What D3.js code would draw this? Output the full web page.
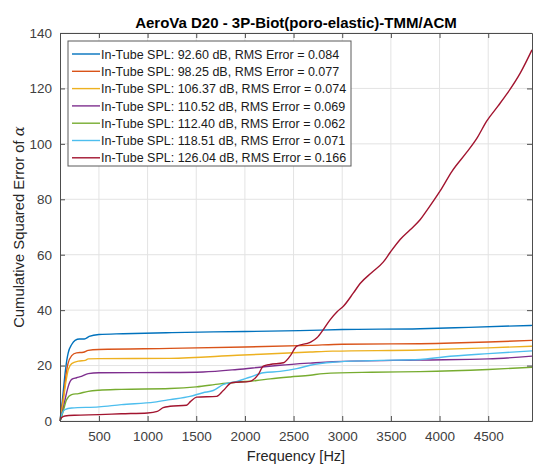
<!DOCTYPE html>
<html>
<head>
<meta charset="utf-8">
<script src="https://cdn.jsdelivr.net/npm/d3@7"></script>
<style>
  body { margin: 0; background: #fff; }
  svg { display: block; overflow: hidden; }
  text { font-family: "Liberation Sans", Arial, sans-serif; }
</style>
</head>
<body>
<div id="chart"></div>
<script>
// chart data ([frequency Hz, cumulative squared error])
var seriesLabels = [
  "In-Tube SPL: 92.60 dB, RMS Error = 0.084",
  "In-Tube SPL: 98.25 dB, RMS Error = 0.077",
  "In-Tube SPL: 106.37 dB, RMS Error = 0.074",
  "In-Tube SPL: 110.52 dB, RMS Error = 0.069",
  "In-Tube SPL: 112.40 dB, RMS Error = 0.062",
  "In-Tube SPL: 118.51 dB, RMS Error = 0.071",
  "In-Tube SPL: 126.04 dB, RMS Error = 0.166"
];
var seriesColors = ["#0072BD", "#D95319", "#EDB120", "#7E2F8E", "#77AC30", "#4DBEEE", "#A2142F"];

var spl9260 = [[100,0],[120,6],[140,13],[155,18],[170,22],[185,24.7],[220,27.6],[255,29.1],[300,29.6],[350,29.6],[400,30.5],[500,31.2],[750,31.5],[1250,31.9],[2000,32.3],[2560,32.6],[3000,33.0],[3800,33.3],[4300,33.8],[4950,34.5]];
var spl9825 = [[100,0],[120,5],[140,10],[160,16],[180,20.4],[220,23.6],[270,24.6],[340,24.8],[390,25.5],[500,25.8],[1230,26.2],[2000,26.7],[2670,27.3],[3000,27.7],[3800,27.9],[4500,28.5],[4950,29.1]];
var spl10637 = [[100,0],[120,4],[140,9],[160,14],[185,18.6],[220,20.7],[290,21.6],[360,21.9],[390,22.4],[500,22.5],[1230,22.6],[1920,23.7],[2670,24.9],[2900,25.2],[3800,25.6],[4500,26.4],[4950,27.0]];
var spl11052 = [[100,0],[130,4],[160,9],[185,12.5],[220,15.0],[270,15.6],[320,16.1],[390,17.1],[500,17.4],[1230,17.5],[1570,17.7],[1920,18.6],[2155,19.4],[2360,20.1],[2670,20.9],[2900,21.4],[3800,22.0],[4500,22.4],[4950,23.4]];
var spl11240 = [[100,0],[120,2],[140,4.5],[168,7.7],[220,9.5],[290,9.9],[390,10.7],[500,11.1],[730,11.4],[1230,11.7],[1500,12.3],[1745,13.4],[1920,14.0],[2120,14.6],[2260,15.2],[2465,15.9],[2670,16.5],[2806,17.1],[3300,17.6],[3800,17.8],[4500,18.6],[4950,19.4]];
var spl11851 = [[100,0],[120,2.5],[150,4.1],[220,4.7],[500,5.1],[730,5.9],[1070,6.8],[1230,7.7],[1435,8.9],[1570,10.2],[1675,11.0],[1780,13.2],[1920,14.3],[2050,15.8],[2190,17.4],[2360,17.9],[2533,18.9],[2670,20.1],[2900,21.2],[3300,21.8],[3800,22.2],[4040,23.1],[4500,24.3],[4950,25.3]];
var spl12604 = [[100,0],[115,1.2],[150,1.8],[250,2.1],[500,2.3],[730,2.6],[1000,2.9],[1100,3.5],[1160,4.8],[1230,5.3],[1400,5.7],[1440,7.0],[1504,8.6],[1710,8.9],[1778,11.0],[1864,13.8],[2052,14.3],[2138,16.8],[2189,19.8],[2258,20.4],[2395,21.0],[2464,23.4],[2533,27.0],[2670,28.4],[2740,30.0],[2806,33.0],[2875,36.5],[2950,39.5],[3012,41.4],[3115,46.2],[3184,49.6],[3304,53.6],[3423,57.4],[3492,60.8],[3595,65.5],[3698,69.0],[3800,72.6],[3870,76.0],[4006,83.0],[4126,90.0],[4280,97.0],[4383,102.0],[4486,108.3],[4600,113.6],[4692,118.0],[4829,125.5],[4950,133.9]];

var allSeries = [spl9260, spl9825, spl10637, spl11052, spl11240, spl11851, spl12604];

var xTicks = [500, 1000, 1500, 2000, 2500, 3000, 3500, 4000, 4500];
var yTicks = [0, 20, 40, 60, 80, 100, 120, 140];

var svgWidth = 533;
var svgHeight = 466;

var margin = { top: 33, right: 1, bottom: 45, left: 60 };
var width = svgWidth - margin.left - margin.right;
var height = svgHeight - margin.top - margin.bottom;

var svg = d3.select("#chart")
  .append("svg")
  .attr("width", svgWidth)
  .attr("height", svgHeight);

var chartGroup = svg.append("g")
  .attr("transform", `translate(${margin.left}, ${margin.top})`);

// scales
var xScale = d3.scaleLinear()
  .domain([100, 4950])
  .range([0, width]);

var yScale = d3.scaleLinear()
  .domain([0, 140])
  .range([height, 0]);

// grid lines
chartGroup.append("g")
  .selectAll("line")
  .data(xTicks)
  .enter()
  .append("line")
  .attr("x1", d => xScale(d))
  .attr("x2", d => xScale(d))
  .attr("y1", 0)
  .attr("y2", height)
  .attr("stroke", "#e3e3e3")
  .attr("stroke-width", 1);

chartGroup.append("g")
  .selectAll("line")
  .data(yTicks)
  .enter()
  .append("line")
  .attr("x1", 0)
  .attr("x2", width)
  .attr("y1", d => yScale(d))
  .attr("y2", d => yScale(d))
  .attr("stroke", "#e3e3e3")
  .attr("stroke-width", 1);

// lines
var line = d3.line()
  .x(d => xScale(d[0]))
  .y(d => yScale(d[1]))
  .curve(d3.curveMonotoneX);

chartGroup.append("g")
  .selectAll("path")
  .data(allSeries)
  .enter()
  .append("path")
  .attr("d", d => line(d))
  .attr("fill", "none")
  .attr("stroke", (d, i) => seriesColors[i])
  .attr("stroke-width", 1.4);

// axes (ticks point inward, box on all sides)
function styleAxis(g) {
  g.select(".domain").attr("stroke", "#4d4d4d");
  g.selectAll(".tick line").attr("stroke", "#4d4d4d");
  g.selectAll(".tick text")
    .attr("fill", "#404040")
    .style("font-size", "13.5px");
}

var bottomAxis = d3.axisBottom(xScale).tickValues(xTicks).tickFormat(d3.format("d")).tickSizeInner(-5).tickSizeOuter(0).tickPadding(10);
var topAxis = d3.axisTop(xScale).tickValues(xTicks).tickSizeInner(-5).tickSizeOuter(0).tickFormat("");
var leftAxis = d3.axisLeft(yScale).tickValues(yTicks).tickFormat(d3.format("d")).tickSizeInner(-5).tickSizeOuter(0).tickPadding(8);
var rightAxis = d3.axisRight(yScale).tickValues(yTicks).tickSizeInner(-5).tickSizeOuter(0).tickFormat("");

chartGroup.append("g")
  .attr("transform", `translate(0, ${height})`)
  .call(bottomAxis)
  .call(styleAxis);

chartGroup.append("g")
  .call(topAxis)
  .call(styleAxis);

chartGroup.append("g")
  .call(leftAxis)
  .call(styleAxis);

chartGroup.append("g")
  .attr("transform", `translate(${width}, 0)`)
  .call(rightAxis)
  .call(styleAxis);

// title and axis labels
svg.append("text")
  .attr("x", margin.left + width / 2)
  .attr("y", 28)
  .attr("text-anchor", "middle")
  .style("font-size", "15px")
  .style("font-weight", "bold")
  .attr("fill", "#000")
  .text("AeroVa D20 - 3P-Biot(poro-elastic)-TMM/ACM");

svg.append("text")
  .attr("x", margin.left + width / 2)
  .attr("y", 461)
  .attr("text-anchor", "middle")
  .style("font-size", "14.5px")
  .attr("fill", "#262626")
  .text("Frequency [Hz]");

var yLabel = svg.append("text")
  .attr("transform", `translate(24, ${margin.top + height / 2}) rotate(-90)`)
  .attr("text-anchor", "middle")
  .style("font-size", "14.8px")
  .attr("fill", "#262626");
yLabel.append("tspan").text("Cumulative Squared Error of ");
yLabel.append("tspan")
  .style("font-family", "'DejaVu Serif', serif")
  .style("font-style", "italic")
  .text("α");

// legend
var legend = svg.append("g")
  .attr("transform", "translate(68, 41)");

legend.append("rect")
  .attr("x", 0)
  .attr("y", 0)
  .attr("width", 283)
  .attr("height", 125)
  .attr("fill", "#fff")
  .attr("stroke", "#5a5a5a")
  .attr("stroke-width", 1);

var legendRows = legend.selectAll("g.row")
  .data(seriesLabels)
  .enter()
  .append("g")
  .attr("class", "row")
  .attr("transform", (d, i) => `translate(0, ${13 + i * 17.3})`);

legendRows.append("line")
  .attr("x1", 4)
  .attr("x2", 32)
  .attr("y1", 0)
  .attr("y2", 0)
  .attr("stroke", (d, i) => seriesColors[i])
  .attr("stroke-width", 1.4);

legendRows.append("text")
  .attr("x", 33)
  .attr("y", 4.6)
  .style("font-size", "12.5px")
  .attr("fill", "#1a1a1a")
  .text(d => d);
</script>
</body>
</html>
